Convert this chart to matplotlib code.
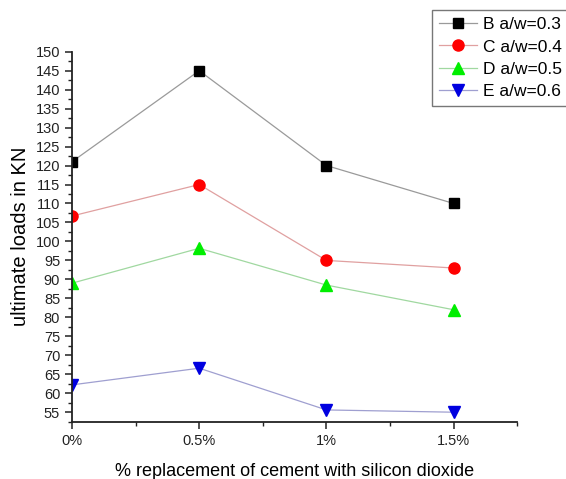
import matplotlib
matplotlib.use("Agg")
import matplotlib.pyplot as plt
from matplotlib.ticker import MultipleLocator, FixedLocator

plt.rcParams['font.family'] = ['Liberation Sans', 'DejaVu Sans']

x_pos = [0, 0.5, 1.0, 1.5]
x_labels = ['0%', '0.5%', '1%', '1.5%']
B = [121.0, 145.0, 120.0, 110.0]
C = [106.7, 115.0, 95.0, 93.0]
D = [89.0, 98.2, 88.5, 82.0]
E = [62.2, 66.6, 55.6, 55.0]
labels = ['B a/w=0.3', 'C a/w=0.4', 'D a/w=0.5', 'E a/w=0.6']

fig = plt.figure(figsize=(5.66, 4.79), dpi=100)
ax = fig.add_axes([72/566, 1-421.7/479, (517.3-72)/566, (421.7-51.7)/479])

ax.plot(x_pos, B, color='#9a9a9a', lw=0.9, marker='s', ms=7, mfc='black', mec='black', label=labels[0])
ax.plot(x_pos, C, color='#e0a0a0', lw=0.9, marker='o', ms=8, mfc='#ff0000', mec='#ff0000', label=labels[1])
ax.plot(x_pos, D, color='#a0d8a0', lw=0.9, marker='^', ms=9, mfc='#00ee00', mec='#00ee00', label=labels[2])
ax.plot(x_pos, E, color='#9f9fd0', lw=0.9, marker='v', ms=9, mfc='#0000e0', mec='#0000e0', label=labels[3])

ax.set_xlim(0, 1.75)
ax.set_ylim(52.5, 150)
ax.set_xticks(x_pos)
ax.set_xticklabels(x_labels)
ax.xaxis.set_minor_locator(FixedLocator([0.25, 0.75, 1.25, 1.75]))
ax.set_yticks(list(range(55, 151, 5)))
ax.yaxis.set_minor_locator(MultipleLocator(2.5))

for s in ['top', 'right']:
    ax.spines[s].set_visible(False)
for s in ['left', 'bottom']:
    ax.spines[s].set_linewidth(1.3)
    ax.spines[s].set_color('#222222')

ax.tick_params(which='major', direction='out', length=5, width=1.1, labelsize=10.5, colors='#222222')
ax.tick_params(which='minor', direction='out', length=3, width=1.0, colors='#222222')

ax.set_xlabel('% replacement of cement with silicon dioxide', fontsize=13, labelpad=11)
ax.set_ylabel('ultimate loads in KN', fontsize=14.5, labelpad=4)

leg = fig.legend(loc='upper left', bbox_to_anchor=(432/566, 1-10/479), fontsize=12.5,
                 frameon=True, fancybox=False, edgecolor='#555555', borderpad=0.4,
                 labelspacing=0.42, handlelength=2.2, handletextpad=0.35, borderaxespad=0)
leg.get_frame().set_linewidth(1.0)

fig.savefig('out.png', dpi=100)
